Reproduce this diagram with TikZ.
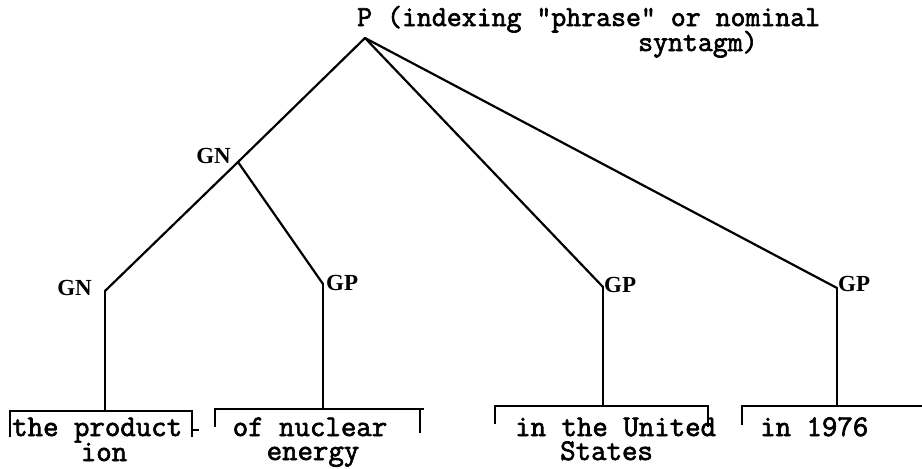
\documentclass[tikz,border=0pt]{standalone}
\usepackage{fontspec}
\newfontfamily\catfont{Liberation Serif}
\newfontfamily\typewriter{Latin Modern Mono}[FakeBold=2.2]
\begin{document}
\begin{tikzpicture}[x=1pt,y=-1pt,
  branch/.style={line width=2.2pt, line cap=round, line join=round},
  bracketline/.style={line width=2pt},
  typed/.style={font=\typewriter\fontsize{30}{32}\selectfont, inner sep=0pt,
    text height=17pt, text depth=6pt},
  headtyped/.style={font=\typewriter\fontsize{29}{31}\selectfont, inner sep=0pt,
    text height=17pt, text depth=6pt},
  cat/.style={font=\catfont\bfseries\fontsize{23}{25}\selectfont, inner sep=0pt}]
\useasboundingbox[fill=white] (0,0) rectangle (922,469);

% junctions of the tree
\coordinate (p)   at (365,38);
\coordinate (gnA) at (238,162);
\coordinate (gnB) at (105,291);
\coordinate (gpA) at (323,284);
\coordinate (gpB) at (603,287);
\coordinate (gpC) at (837,288);

% feet of the vertical stems, on the brackets
\coordinate (lfA) at (105,411);
\coordinate (lfB) at (323,409);
\coordinate (lfC) at (603,406);
\coordinate (lfD) at (837,406);

% root text
\node[headtyped, anchor=base west] (root) at (357,26) {P (indexing "phrase" or nominal};
\node[headtyped, anchor=base west] (root2) at (638,51) {syntagm)};

% category labels
\node[cat, anchor=base east] (lgnA) at (231,163) {GN};
\node[cat, anchor=base east] (lgnB) at (92,295) {GN};
\node[cat, anchor=base west] (lgpA) at (326,290) {GP};
\node[cat, anchor=base west] (lgpB) at (604,292) {GP};
\node[cat, anchor=base west] (lgpC) at (838,291) {GP};

% branches
\draw[branch] (p) -- (gnA) -- (gnB);
\draw[branch] (gnA) -- (gpA);
\draw[branch] (p) -- (gpB);
\draw[branch] (p) -- (gpC);

% stems
\draw[branch] (gnB) -- (lfA);
\draw[branch] (gpA) -- (lfB);
\draw[branch] (gpB) -- (lfC);
\draw[branch] (gpC) -- (lfD);

% brackets
\draw[bracketline] (10,437) -- (10,411) -- (192,411) -- (192,437);
\draw[bracketline] (192,430) -- (199,430);
\draw[bracketline] (215,427) -- (215,409) -- (424,409);
\draw[bracketline] (420,409) -- (420,433);
\draw[bracketline] (495,424) -- (495,406) -- (708,406) -- (708,427);
\draw[bracketline] (742,425) -- (742,406) -- (922,406);

% bracketed words
\node[typed, anchor=base west] (wA1) at (12,436) {the product};
\node[typed, anchor=base] (wA2) at (104,461) {ion};
\node[typed, anchor=base] (wB1) at (310,436) {of nuclear};
\node[typed, anchor=base] (wB2) at (313,460) {energy};
\node[typed, anchor=base west] (wC1) at (515,436) {in the United};
\node[typed, anchor=base west] (wC2) at (560,460) {States};
\node[typed, anchor=base west] (wD1) at (760,436) {in 1976};
\end{tikzpicture}
\end{document}
